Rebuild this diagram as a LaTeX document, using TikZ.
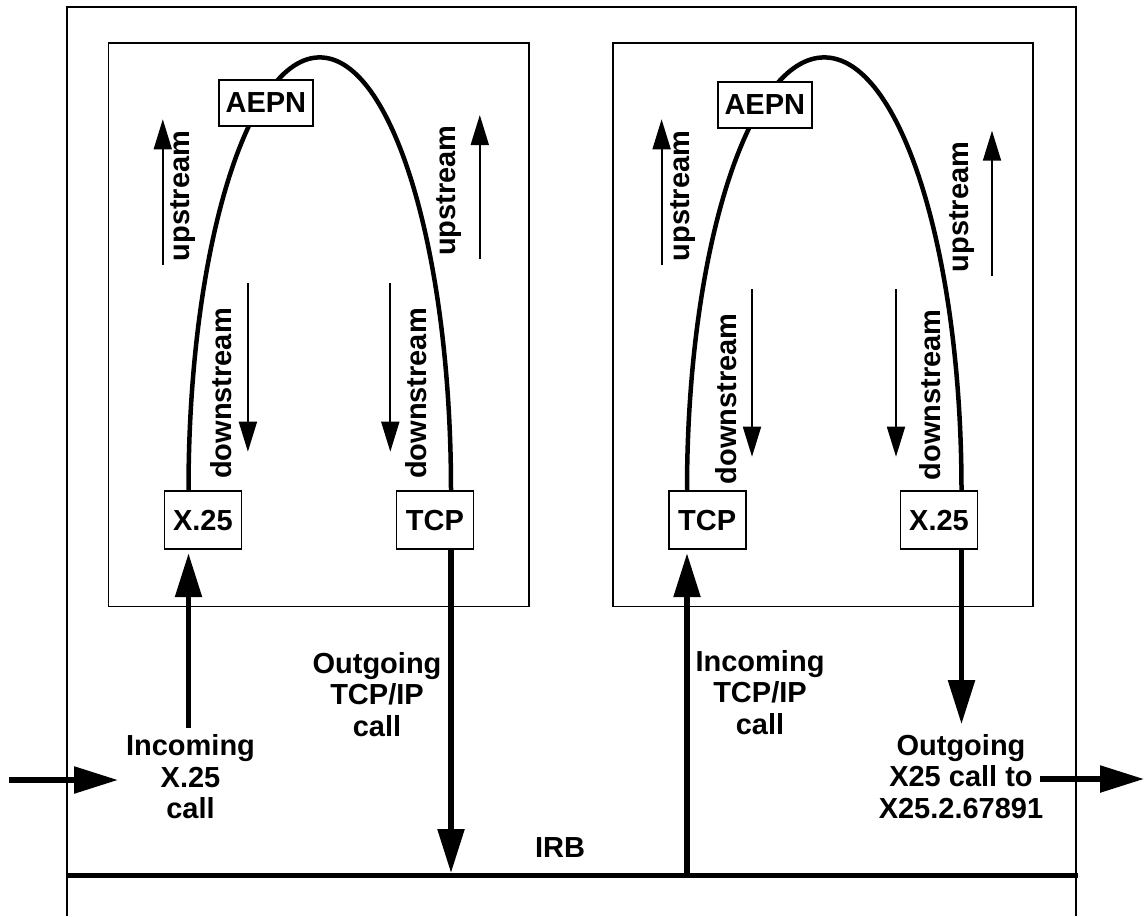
\documentclass[tikz,border=0pt]{standalone}
\usepackage{fontspec}
\setmainfont{Liberation Sans}
\usetikzlibrary{arrows.meta,calc}
\begin{document}
\begin{tikzpicture}[x=1pt,y=-1pt,
  thinl/.style={line width=1.8pt},
  curve/.style={line width=4.5pt},
  thinarrow/.style={line width=1.8pt,-{Triangle[length=30pt,width=18pt]}},
  thickarrow/.style={line width=5.5pt,-{Triangle[length=44pt,width=26pt]}},
  box/.style={draw,fill=white,line width=1.8pt,font=\fontsize{29}{31.5}\selectfont\bfseries,inner sep=0pt,minimum width=77pt,minimum height=58pt},
  aepn/.style={box,minimum width=94pt,minimum height=46pt},
  lbl/.style={font=\fontsize{29}{31.5}\selectfont\bfseries,align=center,inner sep=0pt},
  vlbl/.style={lbl,rotate=90},
]
\useasboundingbox[fill=white] (0,0) rectangle (1146,916);

% outer frame and IRB bus
\draw[thinl] (67,916) -- (67,7) -- (1076,7) -- (1076,916);
\coordinate (irbL) at (67,875);
\coordinate (irbR) at (1078,875);
\draw[line width=5pt] (irbL) -- (irbR);
\node[lbl] (irb) at (560,848) {IRB};

% inner boxes
\draw[thinl] (108.4,42.7) rectangle (529,606.5);
\draw[thinl] (612.7,42.7) rectangle (1032.7,606.5);

% protocol boxes
\node[box] (X25a) at (202.9,520.3) {X.25};
\node[box] (TCPa) at (434.9,520.3) {TCP};
\node[box] (TCPb) at (707.2,520.3) {TCP};
\node[box] (X25b) at (939,520.3) {X.25};

% connector x positions
\coordinate (a1) at (188.5,0);
\coordinate (a2) at (451,0);
\coordinate (a3) at (687,0);
\coordinate (a4) at (961.5,0);

% arcs
\draw[curve] (X25a.north -| a1) arc[start angle=180,end angle=360,x radius=131.25,y radius=433];
\draw[curve] (TCPb.north -| a3) arc[start angle=180,end angle=360,x radius=137.25,y radius=433];

\node[aepn] (AEPNa) at (265.9,102.8) {AEPN};
\node[aepn] (AEPNb) at (764.8,104.8) {AEPN};

% upstream / downstream, box 1
\draw[thinarrow] (162.8,265) -- (162.8,119.3);
\node[vlbl] (upA1) at (183,196) {upstream};
\draw[thinarrow] (479.8,259) -- (479.8,115);
\node[vlbl] (upA2) at (449.4,190.5) {upstream};
\draw[thinarrow] (247.9,283) -- (247.9,451.7);
\node[vlbl] (dnA1) at (221,393.5) {downstream};
\draw[thinarrow] (390.3,283) -- (390.3,451.7);
\node[vlbl] (dnA2) at (416,393.5) {downstream};

% upstream / downstream, box 2
\draw[thinarrow] (661.6,265) -- (661.6,119.3);
\node[vlbl] (upB1) at (683.3,196) {upstream};
\draw[thinarrow] (992,276) -- (992,130.7);
\node[vlbl] (upB2) at (961.7,207) {upstream};
\draw[thinarrow] (752,289) -- (752,456.7);
\node[vlbl] (dnB1) at (726,399) {downstream};
\draw[thinarrow] (896,289) -- (896,456.7);
\node[vlbl] (dnB2) at (930,395) {downstream};

% call labels
\node[lbl] (inX25) at (190.5,777) {Incoming\\X.25\\call};
\node[lbl] (outTCP) at (377,694.5) {Outgoing\\TCP/IP\\call};
\node[lbl] (inTCP) at (760,692.5) {Incoming\\TCP/IP\\call};
\node[lbl] (outX25) at (961,776.5) {Outgoing\\X25 call to\\X25.2.67891};

% thick call arrows
\draw[thickarrow,shorten <=7pt,shorten >=3pt] (inX25.north -| a1) -- (X25a.south -| a1);
\draw[thickarrow,shorten >=2pt] (TCPa.south -| a2) -- (irbL -| a2);
\draw[thickarrow,shorten >=3pt] (irbL -| a3) -- (TCPb.south -| a3);
\draw[thickarrow,shorten >=10pt] (X25b.south -| a4) -- (outX25.north -| a4);

\coordinate (i1) at (9,780);
\coordinate (i2) at (118,780);
\draw[thickarrow] (i1) -- (i2);
\coordinate (o1) at (1040,779);
\coordinate (o2) at (1144,779);
\draw[thickarrow] (o1) -- (o2);
\end{tikzpicture}
\end{document}
